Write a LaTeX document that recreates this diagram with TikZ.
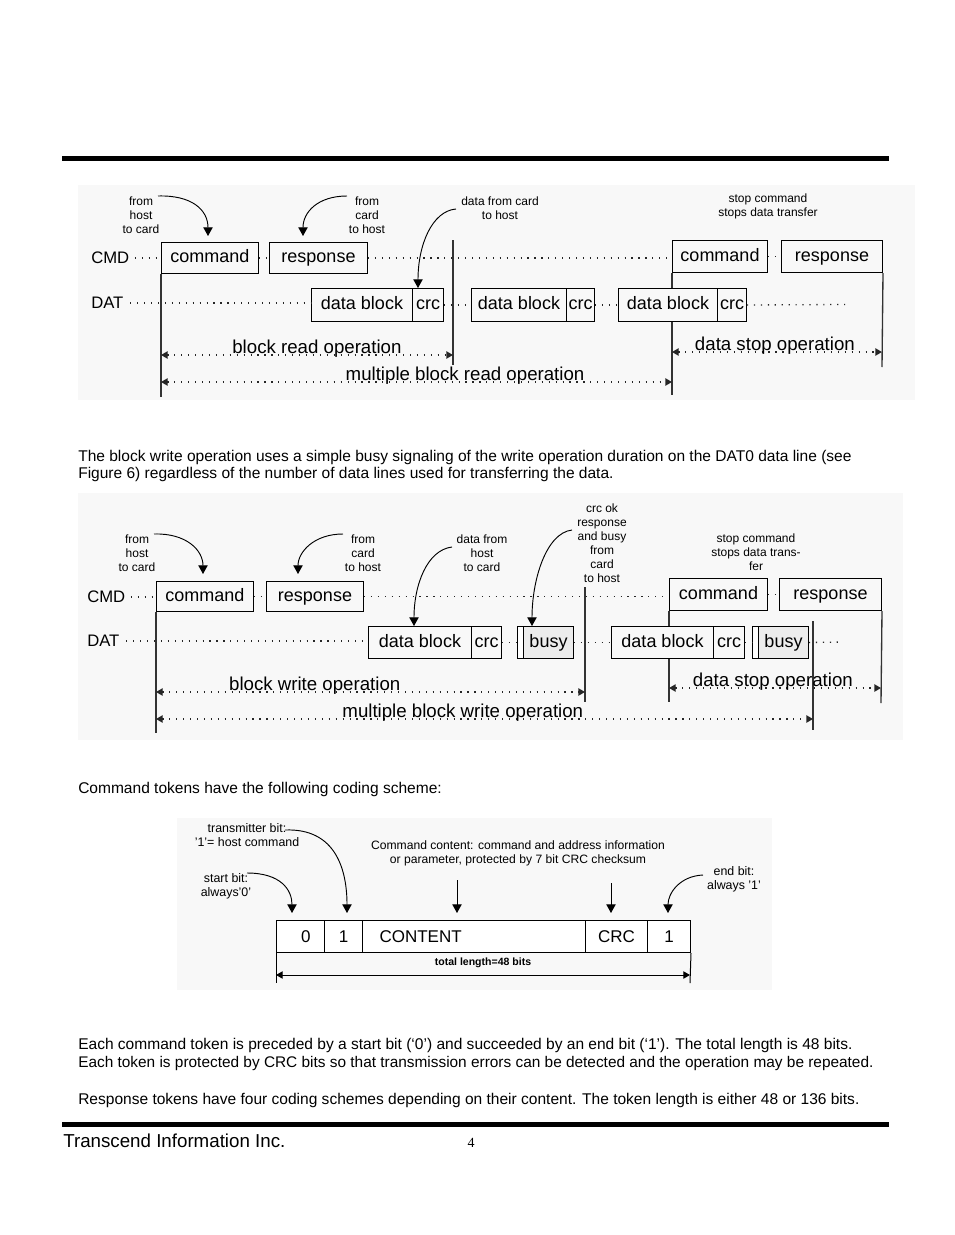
\documentclass[tikz,border=0pt]{standalone}
\usepackage{fontspec}
\setmainfont{Liberation Sans}
\newfontfamily\pagenumfont{Liberation Serif}
\usetikzlibrary{arrows.meta}
\definecolor{panelbg}{RGB}{248,248,248}
\definecolor{busyfill}{RGB}{236,236,236}
\pgfdeclarelayer{panel}
\pgfdeclarelayer{under}
\pgfsetlayers{panel,under,main}
\newcommand\mybox[7][]{\node[boxst,minimum width={(#5-#3)*0.75pt},minimum height={(#6-#4)*0.75pt},anchor=north west,#1] (#2) at (#3,#4) {#7};}
\begin{document}
\begin{tikzpicture}[x=0.75pt,y=-0.75pt,
  boxst/.style={draw=black, fill=panelbg, line width=0.75pt, inner sep=0pt, text height=9.8pt, text depth=2.9pt, font=\fontsize{13.5}{15}\selectfont},
  sig/.style={anchor=west, inner sep=0pt, font=\fontsize{12.5}{14}\selectfont},
  note/.style={align=center, inner sep=0pt, font=\fontsize{9}{10.5}\selectfont},
  dotl/.style={line width=1pt, dash pattern=on 0.9pt off 4.3pt, black!85},
  vline/.style={line width=1pt, black!80},
  curarr/.style={line width=0.7pt, -{Triangle[length=6.5pt,width=7pt]}},
  oparr/.style={dotl, {Triangle[length=5pt,width=5.5pt]}-{Triangle[length=5pt,width=5.5pt]}},
  oplab/.style={anchor=base, inner sep=0pt, yshift=1.5pt, text=black, font=\fontsize{14}{15}\selectfont},
  cell/.style={boxst, fill=white, text height=9.3pt, text depth=0pt, font=\fontsize{12.75}{14}\selectfont},
  solarr/.style={line width=0.75pt, {Triangle[length=5pt,width=5.5pt]}-{Triangle[length=5pt,width=5.5pt]}},
  body/.style={anchor=base west, inner sep=0pt, font=\fontsize{11.65}{13}\selectfont}]
\useasboundingbox (0,0) rectangle (954,1235);
\begin{pgfonlayer}{panel}
\fill[white] (0,0) rectangle (954,1235);
\fill[panelbg] (78,185) rectangle (915,400);
\fill[panelbg] (78,493) rectangle (903,740);
\fill[panelbg] (177,818) rectangle (772,990);
\end{pgfonlayer}
% rules
\fill (62,156) rectangle (889,161);
\fill (62,1122) rectangle (889,1127);

%================ Panel 1: block read =================
\node[note] (nA1) at (141,215) {from\\host\\to card};
\node[note] (nA2) at (367,215) {from\\card\\to host};
\node[note] (nA3) at (500,208) {data from card\\to host};
\node[note] (nA4) at (768,206) {stop command\\stops data transfer};
\node[sig] (cmdA) at (91,258) {CMD};
\node[sig] (datA) at (91,303) {DAT};
\mybox{cA1}{161}{242}{258}{273}{command}
\mybox{rA1}{269}{242}{367}{273}{response}
\mybox{dA1}{311}{288}{412}{321}{data block}
\mybox{kA1}{412}{288}{443}{321}{crc}
\mybox{dA2}{471}{288}{566}{321}{data block}
\mybox{kA2}{566}{288}{594}{321}{crc}
\mybox{dA3}{618}{288}{717}{321}{data block}
\mybox{kA3}{717}{288}{746}{321}{crc}
\mybox{cA2}{672}{240}{767}{272}{command}
\mybox{rA2}{781}{240}{882}{272}{response}
\draw[dotl] ([xshift=4pt]cmdA.east) -- (cA1.west);
\draw[dotl] (cA1.east) -- (rA1.west);
\draw[dotl] (rA1.east) -- (rA1.east -| cA2.west);
\draw[dotl] (cA2.east) -- (rA2.west);
\draw[dotl] ([xshift=5pt]datA.east) -- (datA.east -| dA1.west);
\draw[dotl] (kA1.east) -- (dA2.west);
\draw[dotl] (kA2.east) -- (dA3.west);
\coordinate (eA) at (845,304.5);
\draw[dotl] (kA3.east) -- (eA);
\coordinate (vA1b) at (161,397);
\coordinate (vA2t) at (453,240);
\coordinate (vA2b) at (453,365);
\coordinate (vA3b) at (672,395);
\coordinate (vA4b) at (882,367);
\begin{pgfonlayer}{under}
\draw[vline] (cA1.south west) -- (vA1b);
\draw[vline] (vA2t) -- (vA2b);
\draw[vline] (cA2.south west) -- (vA3b);
\draw[vline] (rA2.south east) -- (vA4b);
\end{pgfonlayer}
\coordinate (oA1l) at (161,355); \coordinate (oA1r) at (453,355);
\coordinate (oA2l) at (161,382); \coordinate (oA2r) at (672,382);
\coordinate (oA3l) at (672,352); \coordinate (oA3r) at (882,352);
\draw[oparr] (oA1l) -- node[oplab,pos=0.534] {block read operation} (oA1r);
\draw[oparr] (oA2l) -- node[oplab,pos=0.595] {multiple block read operation} (oA2r);
\draw[oparr] (oA3l) -- node[oplab,pos=0.49] {data stop operation} (oA3r);
\coordinate (aA1s) at (158,196); \coordinate (aA1e) at (208,236);
\coordinate (aA2s) at (347,196); \coordinate (aA2e) at (303,236);
\coordinate (aA3s) at (456,209); \coordinate (aA3e) at (418,288);
\draw[curarr] (aA1s) .. controls (192,195) and (208,210) .. (aA1e);
\draw[curarr] (aA2s) .. controls (318,196) and (303,212) .. (aA2e);
\draw[curarr] (aA3s) .. controls (432,211) and (418,245) .. (aA3e);

%================ text =================
\node[body] (t1) at (78,461) {The block write operation uses a simple busy signaling of the write operation duration on the DAT0 data line (see};
\node[body] (t2) at (78,478) {Figure 6) regardless of the number of data lines used for transferring the data.};

%================ Panel 2: block write =================
\node[note] (nB1) at (137,553) {from\\host\\to card};
\node[note] (nB2) at (363,553) {from\\card\\to host};
\node[note] (nB3) at (482,553) {data from\\host\\to card};
\node[note] (nB4) at (602,543.5) {crc ok\\response\\and busy\\from\\card\\to host};
\node[note] (nB5) at (756,552) {stop command\\stops data trans-\\fer};
\node[sig] (cmdB) at (87,597) {CMD};
\node[sig] (datB) at (87,641) {DAT};
\mybox{cB1}{156}{581}{253}{611}{command}
\mybox{rB1}{266}{581}{363}{611}{response}
\mybox{dB1}{368}{626}{471}{658}{data block}
\mybox{kB1}{471}{626}{501}{658}{crc}
\mybox[fill=white]{sB1}{517}{626}{523}{658}{}
\mybox[fill=busyfill]{bB1}{523}{626}{573}{658}{busy}
\mybox{dB2}{611}{626}{713}{658}{data block}
\mybox{kB2}{713}{626}{744}{658}{crc}
\mybox[fill=white]{sB2}{752}{626}{758}{658}{}
\mybox[fill=busyfill]{bB2}{758}{626}{808}{658}{busy}
\mybox{cB2}{669}{578}{767}{610}{command}
\mybox{rB2}{779}{578}{881}{610}{response}
\draw[dotl] ([xshift=4pt]cmdB.east) -- (cmdB.east -| cB1.west);
\draw[dotl] (cB1.east) -- (rB1.west);
\draw[dotl] (rB1.east) -- (rB1.east -| cB2.west);
\draw[dotl] (cB2.east) -- (rB2.west);
\draw[dotl] ([xshift=5pt]datB.east) -- (datB.east -| dB1.west);
\draw[dotl] (kB1.east) -- (sB1.west);
\draw[dotl] (bB1.east) -- (dB2.west);
\draw[dotl] (kB2.east) -- (sB2.west);
\coordinate (eB) at (843,642);
\draw[dotl] (bB2.east) -- (eB);
\coordinate (vB1b) at (156,733);
\coordinate (vB2t) at (585,587); \coordinate (vB2b) at (585,702);
\coordinate (vB3b) at (669,702);
\coordinate (vB4b) at (881,703);
\coordinate (vB5t) at (813,621); \coordinate (vB5b) at (813,730);
\begin{pgfonlayer}{under}
\draw[vline] (cB1.south west) -- (vB1b);
\draw[vline] (vB2t) -- (vB2b);
\draw[vline] (cB2.south west) -- (vB3b);
\draw[vline] (rB2.south east) -- (vB4b);
\draw[vline] (vB5t) -- (vB5b);
\end{pgfonlayer}
\coordinate (oB1l) at (156,692); \coordinate (oB1r) at (585,692);
\coordinate (oB2l) at (156,719); \coordinate (oB2r) at (813,719);
\coordinate (oB3l) at (669,688); \coordinate (oB3r) at (881,688);
\draw[oparr] (oB1l) -- node[oplab,pos=0.37] {block write operation} (oB1r);
\draw[oparr] (oB2l) -- node[oplab,pos=0.467] {multiple block write operation} (oB2r);
\draw[oparr] (oB3l) -- node[oplab,pos=0.49] {data stop operation} (oB3r);
\coordinate (aB1s) at (154,534); \coordinate (aB1e) at (203,574);
\coordinate (aB2s) at (343,534); \coordinate (aB2e) at (298,574);
\coordinate (aB3s) at (452,547); \coordinate (aB3e) at (414,626);
\coordinate (aB4s) at (572,530); \coordinate (aB4e) at (532,626);
\draw[curarr] (aB1s) .. controls (186,533) and (203,550) .. (aB1e);
\draw[curarr] (aB2s) .. controls (314,534) and (298,552) .. (aB2e);
\draw[curarr] (aB3s) .. controls (427,550) and (414,585) .. (aB3e);
\draw[curarr] (aB4s) .. controls (546,533) and (532,580) .. (aB4e);

\node[body] (t3) at (78,793) {Command tokens have the following coding scheme:};

%================ Panel 3: command token =================
\node[note,font=\fontsize{9.3}{10.2}\selectfont] (nC1) at (247,835) {transmitter bit:\\'1'= host command};
\node[note,font=\fontsize{9.3}{10.2}\selectfont] (nC2) at (226,886) {start bit:\\always'0'};
\node[note,font=\fontsize{9.1}{10.5}\selectfont] (nC3) at (518,853) {Command content: command and address information\\or parameter, protected by 7 bit CRC checksum};
\node[note,font=\fontsize{9.3}{10.2}\selectfont] (nC4) at (734,879) {end bit:\\always '1'};
\mybox[cell]{t0}{276}{920}{324}{952}{\hspace*{8pt}0}
\mybox[cell]{t1}{324}{920}{362}{952}{1}
\mybox[cell,text width={189*0.75pt},align=left]{t2}{362}{920}{585}{952}{CONTENT}
\mybox[cell]{t3}{585}{920}{647}{952}{CRC}
\mybox[cell]{t4}{647}{920}{690}{952}{1}
\coordinate (tBL) at (276,983); \coordinate (tBR) at (690,983);
\draw[line width=0.75pt] (t0.south west) -- (tBL);
\draw[line width=0.75pt] (t4.south east) -- (tBR);
\node[inner sep=0pt, font=\bfseries\fontsize{7.9}{9}\selectfont] (tot) at (483,963) {total length=48 bits};
\coordinate (tAl) at (276,975); \coordinate (tAr) at (690,975);
\draw[solarr] (tAl) -- (tAr);
\coordinate (aC1s) at (285,830); \coordinate (aC1e) at (347,913);
\coordinate (aC2s) at (247,873); \coordinate (aC2e) at (292,913);
\coordinate (aC3s) at (457,880); \coordinate (aC3e) at (457,913);
\coordinate (aC4s) at (611,883); \coordinate (aC4e) at (611,913);
\coordinate (aC5s) at (703,875); \coordinate (aC5e) at (668,913);
\draw[curarr] (aC1s) .. controls (336,828) and (347,870) .. (aC1e);
\draw[curarr] (aC2s) .. controls (281,873) and (292,890) .. (aC2e);
\draw[curarr] (aC3s) -- (aC3e);
\draw[curarr] (aC4s) -- (aC4e);
\draw[curarr] (aC5s) .. controls (680,876) and (668,893) .. (aC5e);

%================ bottom text =================
\node[body] (t4x) at (78,1049) {Each command token is preceded by a start bit (‘0’) and succeeded by an end bit (‘1’). The total length is 48 bits.};
\node[body,font=\fontsize{11.55}{13}\selectfont] (t5) at (78,1067) {Each token is protected by CRC bits so that transmission errors can be detected and the operation may be repeated.};
\node[body] (t6) at (78,1104) {Response tokens have four coding schemes depending on their content. The token length is either 48 or 136 bits.};
\node[anchor=base west, inner sep=0pt, font=\fontsize{14.05}{15}\selectfont] (foot) at (63,1147) {Transcend Information Inc.};
\node[anchor=base, inner sep=0pt, font=\pagenumfont\fontsize{10.5}{12}\selectfont] (pg) at (471,1147) {4};
\end{tikzpicture}
\end{document}
